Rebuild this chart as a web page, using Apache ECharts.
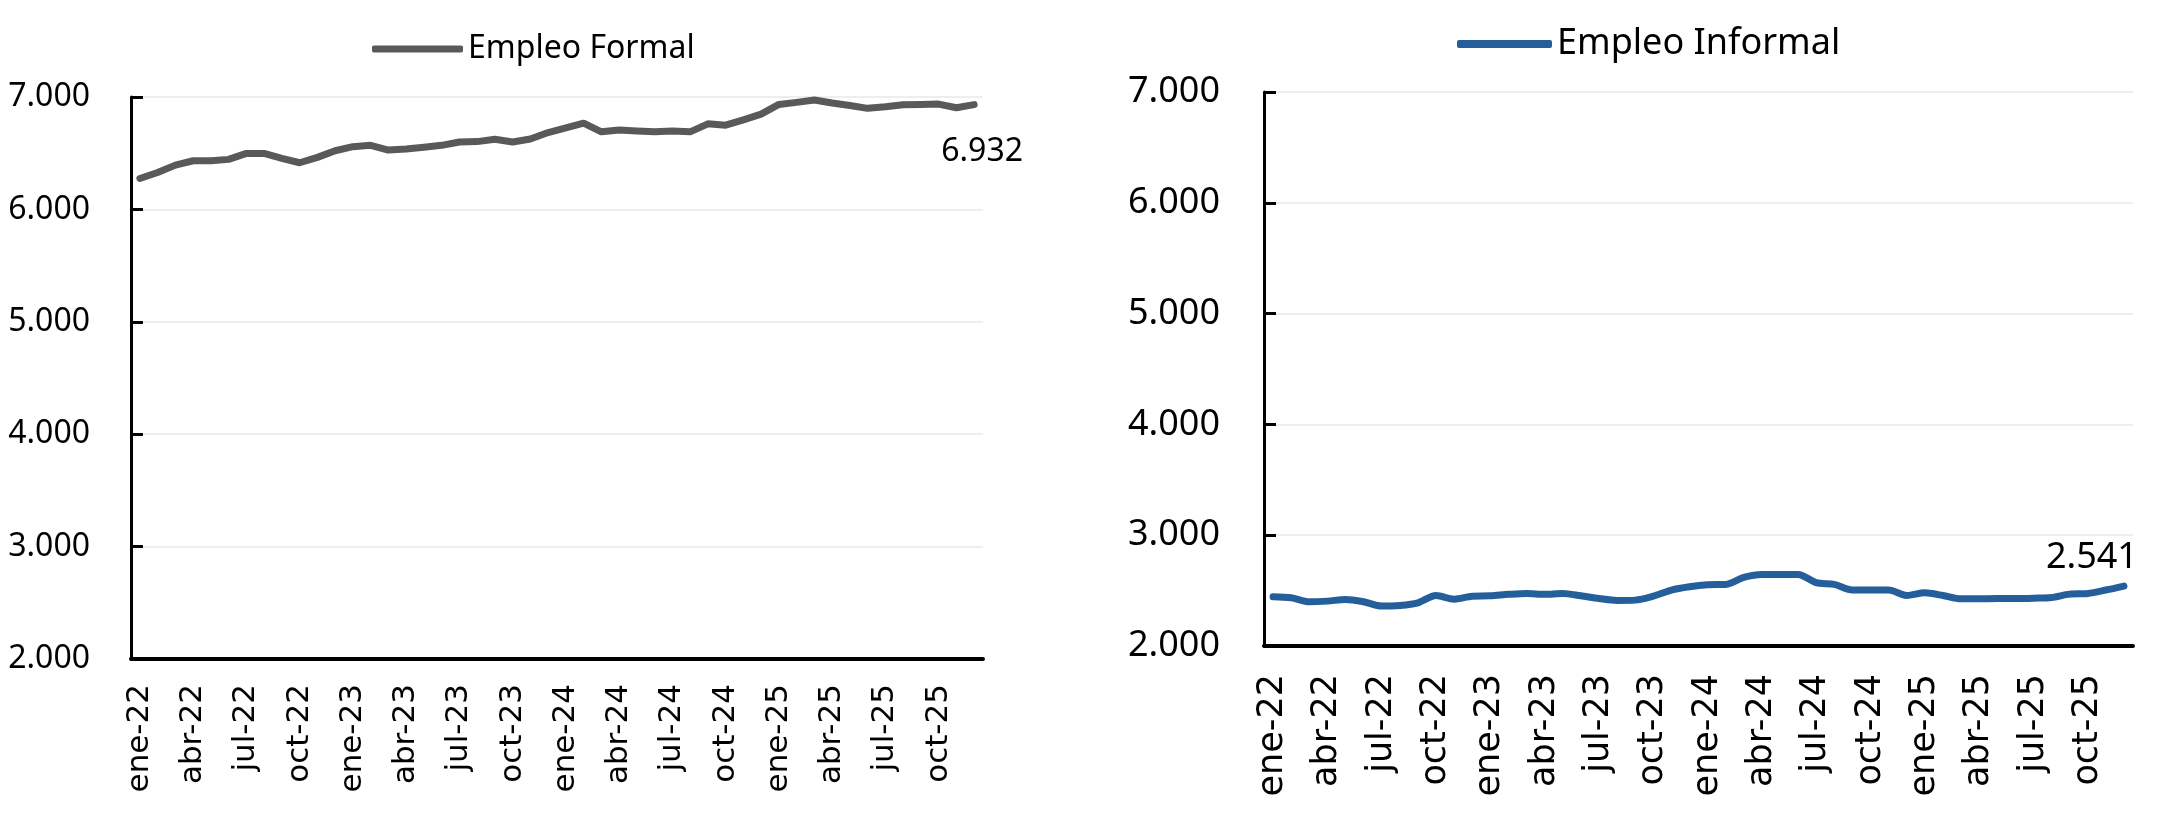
<!DOCTYPE html>
<html>
<head>
<meta charset="utf-8">
<script src="https://cdn.jsdelivr.net/npm/echarts@6/dist/echarts.min.js"></script>
<style>
html,body{margin:0;padding:0;background:#fff;}
#c{width:2163px;height:838px;}
</style>
</head>
<body>
<div id="c"></div>
<script>
const categories = [
 'ene-22','feb-22','mar-22','abr-22','may-22','jun-22','jul-22','ago-22','sep-22','oct-22','nov-22','dic-22',
 'ene-23','feb-23','mar-23','abr-23','may-23','jun-23','jul-23','ago-23','sep-23','oct-23','nov-23','dic-23',
 'ene-24','feb-24','mar-24','abr-24','may-24','jun-24','jul-24','ago-24','sep-24','oct-24','nov-24','dic-24',
 'ene-25','feb-25','mar-25','abr-25','may-25','jun-25','jul-25','ago-25','sep-25','oct-25','nov-25','dic-25'
];
const formalValues = [
 6275,6328,6394,6433,6433,6445,6498,6498,6454,6415,6463,6522,
 6558,6570,6528,6537,6552,6570,6600,6603,6624,6600,6627,6684,
 6725,6767,6690,6707,6698,6690,6698,6690,6761,6749,6797,6848,
 6934,6952,6973,6946,6925,6899,6913,6931,6934,6937,6904,6932
];
const informalValues = [
 2444,2435,2399,2405,2420,2399,2360,2366,2390,2456,2423,2450,
 2453,2466,2474,2466,2474,2453,2429,2411,2414,2450,2505,2535,
 2553,2556,2619,2646,2646,2646,2571,2556,2505,2505,2505,2456,
 2480,2456,2426,2426,2429,2429,2432,2438,2468,2474,2505,2541
];
const yTicks = {min: 2000, max: 7000, interval: 1000};
const seriesNames = ['Empleo Formal', 'Empleo Informal'];

function fmt(v){ return String(v).replace(/\B(?=(\d{3})+(?!\d))/g, '.'); }

function withEndLabel(values, labelOpt){
  return values.map((v, i) => i === values.length - 1 ? {value: v, label: labelOpt} : v);
}

const chart = echarts.init(document.getElementById('c'), null, {renderer: 'canvas'});

function yAxisOpt(gridIndex, fontSize, margin){
  return {
    type: 'value', gridIndex: gridIndex,
    min: yTicks.min, max: yTicks.max, interval: yTicks.interval,
    axisLine: {show: true, lineStyle: {color: '#000', width: 3}},
    axisTick: {show: true, inside: true, length: 12, lineStyle: {color: '#000', width: 3}},
    axisLabel: {formatter: fmt, fontFamily: 'Noto Sans', fontSize: fontSize, color: '#000', margin: margin},
    splitLine: {show: true, lineStyle: {color: '#EEEEEE', width: 2}}
  };
}
function xAxisOpt(gridIndex, fontSize, margin){
  return {
    type: 'category', gridIndex: gridIndex, data: categories, boundaryGap: true,
    axisLine: {show: true, lineStyle: {color: '#000', width: 4}},
    axisTick: {show: false},
    axisLabel: {interval: 2, rotate: 90, fontFamily: 'DejaVu Sans', fontSize: fontSize, color: '#000', margin: margin},
    splitLine: {show: false}
  };
}

const option = {
  animation: false,
  backgroundColor: '#fff',
  grid: [
    {left: 131, top: 97, width: 852, height: 562},
    {left: 1264, top: 92, width: 869, height: 554}
  ],
  legend: [
    {data: [seriesNames[0]], left: 372, top: 29, padding: 0, itemWidth: 91, itemHeight: 7, icon: 'roundRect',
     textStyle: {fontFamily: 'Noto Sans', fontSize: 32, color: '#000', lineHeight: 40}},
    {data: [seriesNames[1]], left: 1457, top: 22, padding: 0, itemWidth: 95, itemHeight: 8, icon: 'roundRect',
     textStyle: {fontFamily: 'Noto Sans', fontSize: 36, color: '#000', lineHeight: 44}}
  ],
  xAxis: [xAxisOpt(0, 31, 25), xAxisOpt(1, 35, 28)],
  yAxis: [yAxisOpt(0, 32, 41), yAxisOpt(1, 36, 44)],
  series: [
    {
      name: seriesNames[0], type: 'line', xAxisIndex: 0, yAxisIndex: 0,
      data: withEndLabel(formalValues, {show: true, position: 'inside', offset: [8, 47], formatter: p => fmt(p.value),
        fontFamily: 'Noto Sans', fontSize: 32, color: '#000'}),
      symbol: 'circle', symbolSize: 0, showSymbol: true, showAllSymbol: true,
      itemStyle: {color: '#595959'},
      lineStyle: {color: '#595959', width: 7, cap: 'round', join: 'round'},
      emphasis: {disabled: true}
    },
    {
      name: seriesNames[1], type: 'line', xAxisIndex: 1, yAxisIndex: 1, smooth: 0.3,
      data: withEndLabel(informalValues, {show: true, position: 'inside', offset: [-32, -28], formatter: p => fmt(p.value),
        fontFamily: 'Noto Sans', fontSize: 36, color: '#000'}),
      symbol: 'circle', symbolSize: 0, showSymbol: true, showAllSymbol: true,
      itemStyle: {color: '#245E9B'},
      lineStyle: {color: '#245E9B', width: 7, cap: 'round', join: 'round'},
      emphasis: {disabled: true}
    }
  ]
};
chart.setOption(option);
</script>
</body>
</html>
